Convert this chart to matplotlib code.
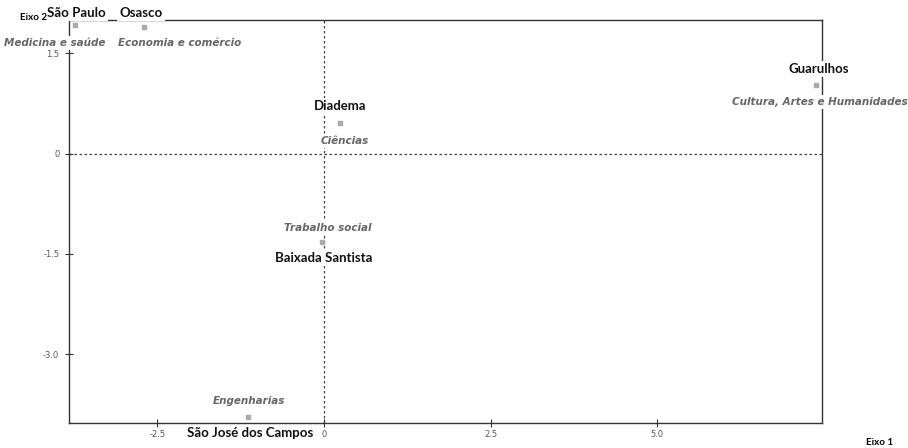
import matplotlib
matplotlib.use("Agg")
import matplotlib.pyplot as plt

# coordenadas dos campi / áreas (leitura aproximada do gráfico)
cidades = ["São Paulo", "Osasco", "Guarulhos", "Diadema", "Baixada Santista", "São José dos Campos"]
areas = ["Medicina e saúde", "Economia e comércio", "Cultura, Artes e Humanidades",
         "Ciências", "Trabalho social", "Engenharias"]
eixo1 = [-3.73, -2.70, 7.38, 0.24, -0.03, -1.14]
eixo2 = [1.93, 1.89, 1.03, 0.46, -1.32, -3.94]

xticks = [-2.5, 0, 2.5, 5.0]
xticklabels = ["-2.5", "0", "2.5", "5.0"]
yticks = [1.5, 0, -1.5, -3.0]
yticklabels = ["1.5", "0", "-1.5", "-3.0"]

# deslocamento dos rótulos em pixels (dx, dy)
off_cid = [(1, 12), (-3, 14), (3, 16), (0, 17), (2, -16), (2, -16)]
off_area = [(-21, -18), (36, -16), (4, -17), (5, -18), (6, 14), (1, 16)]

fig = plt.figure(figsize=(9.08, 4.48), dpi=100)
ax = fig.add_axes([0.076, 0.0558, 0.8293, 0.8996])
ax.set_xlim(-3.825, 7.47)
ax.set_ylim(-4.03, 2.0)

ax.axhline(0, color="#444444", lw=0.9, ls=(0, (2, 2)), zorder=1)
ax.axvline(0, color="#444444", lw=0.9, ls=(0, (2, 2)), zorder=1)

ax.scatter(eixo1, eixo2, marker="s", s=9, color="#aaaaaa", zorder=3)

box = dict(facecolor="white", edgecolor="none", pad=1.5)
for x, y, nome, (dx, dy) in zip(eixo1, eixo2, cidades, off_cid):
    ax.annotate(nome, (x, y), xytext=(dx, dy), textcoords="offset pixels",
                ha="center", va="center", fontsize=9.5, fontweight="bold",
                family="Lato", color="#111111", bbox=box,
                annotation_clip=False, clip_on=False, zorder=5)
for x, y, nome, (dx, dy) in zip(eixo1, eixo2, areas, off_area):
    ax.annotate(nome, (x, y), xytext=(dx, dy), textcoords="offset pixels",
                ha="center", va="center", fontsize=7.5, style="italic",
                fontweight="bold", family="DejaVu Sans", color="#666666",
                bbox=box, annotation_clip=False, clip_on=False, zorder=5)

for s in ax.spines.values():
    s.set_color("#333333")
    s.set_linewidth(1.0)
    s.set_zorder(2)

ax.set_xticks(xticks)
ax.set_xticklabels(xticklabels)
ax.set_yticks(yticks)
ax.set_yticklabels(yticklabels)
ax.tick_params(direction="inout", length=6, width=0.8, colors="#333333",
               labelsize=6, labelcolor="#555555", pad=2)
ax.tick_params(axis="y", pad=4)

fig.text(47 / 908, 1 - 17 / 448, "Eixo 2", ha="right", va="center",
         fontsize=7, fontweight="bold", family="Lato")
fig.text(880 / 908, 1 - 442 / 448, "Eixo 1", ha="center", va="center",
         fontsize=7, fontweight="bold", family="Lato")

fig.savefig("out.png", dpi=100, facecolor="white")
